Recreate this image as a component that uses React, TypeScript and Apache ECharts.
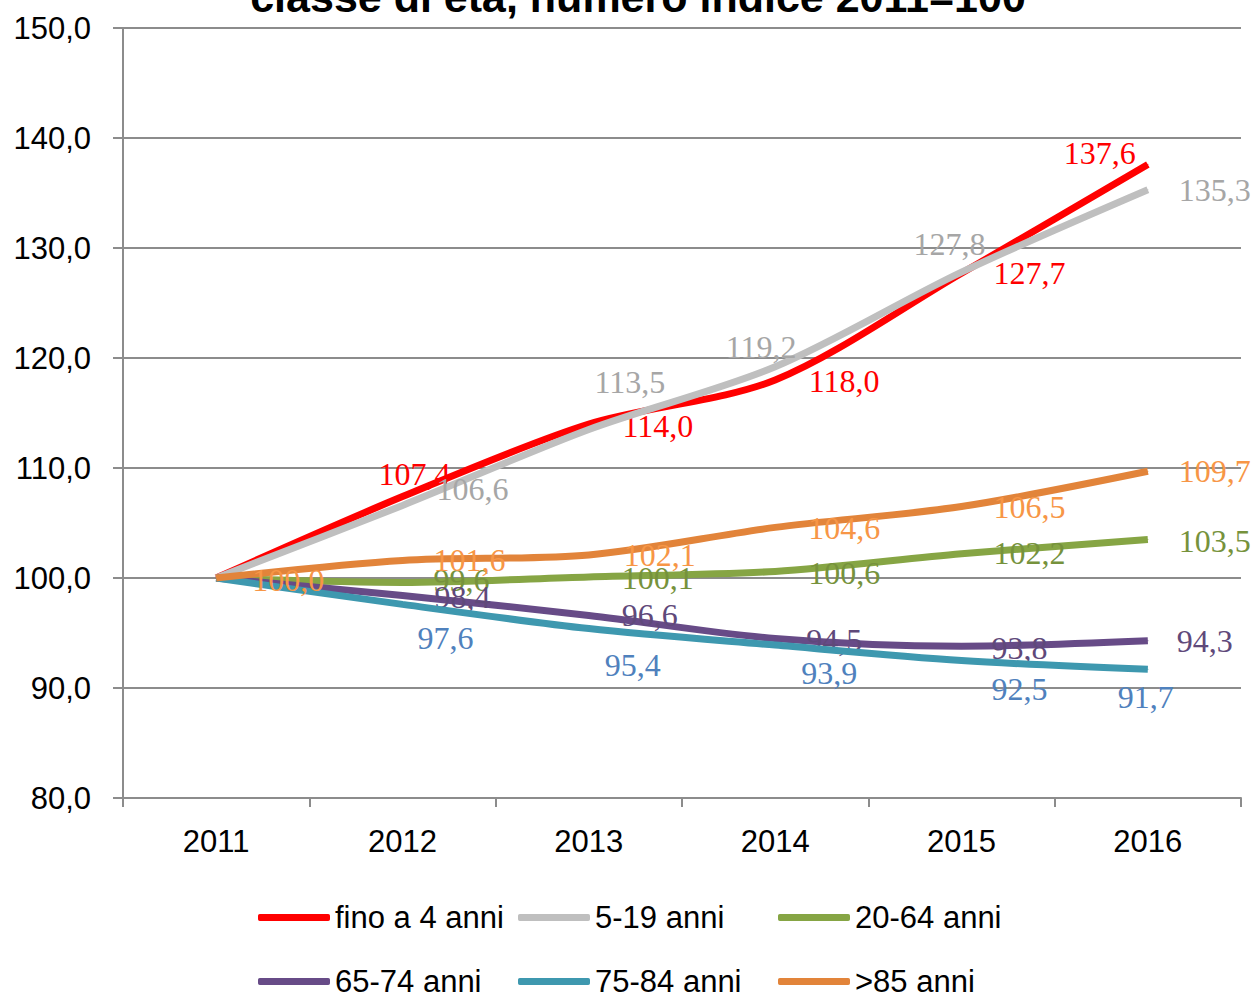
import React, { useEffect, useRef } from "react";
import * as echarts from "echarts";

const years = ["2011", "2012", "2013", "2014", "2015", "2016"];
const seriesNames = ["fino a 4 anni", "5-19 anni", "20-64 anni", "65-74 anni", "75-84 anni", ">85 anni"];
const fino4 = [100.0, 107.4, 114.0, 118.0, 127.7, 137.6];
const anni5_19 = [100.0, 106.6, 113.5, 119.2, 127.8, 135.3];
const anni20_64 = [100.0, 99.6, 100.1, 100.6, 102.2, 103.5];
const anni65_74 = [100.0, 98.4, 96.6, 94.5, 93.8, 94.3];
const anni75_84 = [100.0, 97.6, 95.4, 93.9, 92.5, 91.7];
const over85 = [100.0, 101.6, 102.1, 104.6, 106.5, 109.7];
const yTicks = { min: 80, max: 150, interval: 10 };

const allValues = [fino4, anni5_19, anni20_64, anni65_74, anni75_84, over85];
const lineColors = ["#FF0000", "#BFBFBF", "#86A544", "#674B87", "#3E98AF", "#E2843A"];
const labelColors = ["#FF0000", "#A6A6A6", "#76923C", "#5F497A", "#4F81BD", "#F79646"];
// label offsets (dx, dy) relative to point; null = hidden
const labelOffsets: (number[] | null)[][] = [
  [null, [12, -23], [69, 2], [69, 1], [68, 0], [-48, -11]],
  [null, [70, -16], [41, -48], [-14, -20], [-12, -28], [67, 0]],
  [null, [59, -2], [69, 1], [69, 2], [68, -1], [67, 1]],
  [null, [60, 1], [61, 0], [59, 1], [58, 2], [57, 0]],
  [null, [43, 34], [44, 36], [54, 28], [58, 28], [-2, 28]],
  [[72, 2], [67, 0], [71, 0], [69, 1], [68, 0], [67, 0]],
];
const legendPos = [
  [258, 0], [518, 0], [778, 0],
  [258, 1], [518, 1], [778, 1],
];

const fmt = (v: number) => v.toFixed(1).replace(".", ",");

export default function App() {
  const ref = useRef<HTMLDivElement>(null);
  useEffect(() => {
    if (!ref.current) return;
    const chart = echarts.init(ref.current, null, { renderer: "svg" });
    const series = allValues.map((vals, si) => ({
      name: seriesNames[si],
      type: "line",
      smooth: 0.3,
      symbol: "circle",
      symbolSize: 1,
      showSymbol: true,
      z: 2 + si,
      itemStyle: { color: lineColors[si] },
      lineStyle: { color: lineColors[si], width: 7 },
      data: vals.map((v, i) => {
        const off = labelOffsets[si][i];
        return {
          value: v,
          label: off
            ? {
                show: true,
                position: "inside",
                offset: off,
                formatter: (p: any) => fmt(p.value),
                color: labelColors[si],
                fontFamily: "Liberation Serif",
                fontSize: 32,
              }
            : { show: false },
        };
      }),
    }));
    const legends = seriesNames.map((n, i) => ({
      data: [n],
      left: legendPos[i][0],
      top: 902 + legendPos[i][1] * 64,
      padding: 0,
      icon: "roundRect",
      itemWidth: 72,
      itemHeight: 7,
      itemGap: 0,
      textStyle: { fontFamily: "Liberation Sans", fontSize: 31, color: "#000" },
    }));
    chart.setOption({
      animation: false,
      backgroundColor: "#fff",
      grid: { left: 123, right: 18, top: 28, bottom: 198, containLabel: false },
      graphic: [
        {
          type: "text",
          x: 638,
          y: 18,
          style: {
            text: "classe di età, numero indice 2011=100",
            textAlign: "center",
            textVerticalAlign: "bottom",
            fontFamily: "Liberation Sans",
            fontWeight: "bold",
            fontSize: 43,
            fill: "#000",
          },
        },
      ],
      legend: legends,
      xAxis: {
        type: "category",
        data: years,
        boundaryGap: true,
        axisLine: { lineStyle: { color: "#8C8C8C", width: 2 } },
        axisTick: { show: true, alignWithLabel: false, length: 9, lineStyle: { color: "#8C8C8C", width: 2 } },
        axisLabel: { margin: 28, fontFamily: "Liberation Sans", fontSize: 31, color: "#000" },
        splitLine: { show: false },
      },
      yAxis: {
        type: "value",
        min: yTicks.min,
        max: yTicks.max,
        interval: yTicks.interval,
        axisLine: { show: true, lineStyle: { color: "#8C8C8C", width: 2 } },
        axisTick: { show: true, length: 10, lineStyle: { color: "#8C8C8C", width: 2 } },
        axisLabel: {
          margin: 32,
          fontFamily: "Liberation Sans",
          fontSize: 31,
          color: "#000",
          formatter: (v: number) => fmt(v),
        },
        splitLine: { show: true, lineStyle: { color: "#8C8C8C", width: 2 } },
      },
      series,
    });
    return () => chart.dispose();
  }, []);
  return (
    <div
      ref={ref}
      style={{ position: "fixed", left: 0, top: 0, width: 1259, height: 996, background: "#fff" }}
    />
  );
}
